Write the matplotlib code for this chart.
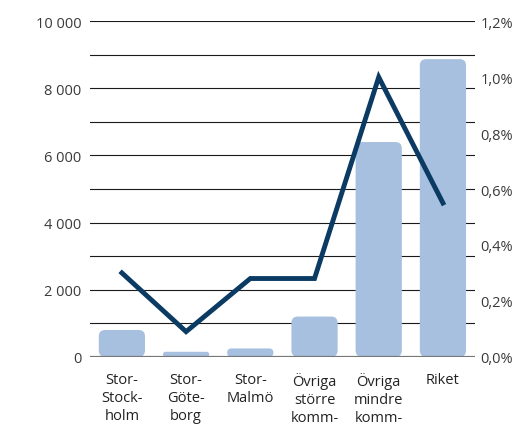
import matplotlib
matplotlib.use("Agg")
import matplotlib.pyplot as plt
from matplotlib.patches import FancyBboxPatch
from matplotlib.ticker import FuncFormatter

plt.rcParams['font.family'] = ['Open Sans', 'DejaVu Sans']

categories = ["Stor-\nStock-\nholm", "Stor-\nGöte-\nborg", "Stor-\nMalmö",
              "Övriga\nstörre\nkomm-", "Övriga\nmindre\nkomm-", "Riket"]
bar_values = [800, 150, 250, 1200, 6400, 8870]
line_values = [0.30, 0.09, 0.28, 0.28, 1.00, 0.55]
left_ticks = [0, 2000, 4000, 6000, 8000, 10000]
right_ticks = [0.0, 0.2, 0.4, 0.6, 0.8, 1.0, 1.2]

bar_color = "#a7c0df"
line_color = "#0b3a63"
text_color = "#3a3a3a"

fig = plt.figure(figsize=(5.13, 4.27), dpi=100)
ax = fig.add_axes([0.175, 0.162, 0.751, 0.786])

x = list(range(len(categories)))
ax.set_xlim(-0.5, len(categories) - 0.5)
ax.set_ylim(0, 10000)

# horizontal grid every 1000
for v in range(1000, 10001, 1000):
    ax.axhline(v, color="#1a1a1a", lw=0.8, zorder=1)
ax.axhline(0, color="#777777", lw=1.6, zorder=4)

bars = ax.bar(x, bar_values, width=0.72, color=bar_color, zorder=2)

# replace plain rectangles with rounded ones
px_per_x = 385 / 6.0
px_per_y = 336 / 10000.0
aspect = px_per_x / px_per_y
for r in bars:
    bx, by, bw, bh = r.get_x(), r.get_y(), r.get_width(), r.get_height()
    r.set_visible(False)
    rs = min(0.1, (bh / aspect) / 2.0)
    patch = FancyBboxPatch((bx, by), bw, bh,
                           boxstyle=f"round,pad=0,rounding_size={rs}",
                           mutation_aspect=aspect,
                           facecolor=bar_color, edgecolor="none", zorder=2)
    ax.add_patch(patch)

ax.set_yticks(left_ticks)
ax.yaxis.set_major_formatter(FuncFormatter(lambda v, p: f"{int(v):,}".replace(",", " ")))
ax.set_xticks(x)
ax.set_xticklabels(categories, fontsize=10.5, color="#222222", linespacing=1.25, va="top")
ax.tick_params(axis="x", length=0, pad=11)
ax.tick_params(axis="y", length=0, pad=6, labelsize=10.5, labelcolor=text_color)
for s in ax.spines.values():
    s.set_visible(False)

ax2 = ax.twinx()
ax2.set_ylim(0, 1.2)
ax2.plot(x, line_values, color=line_color, lw=3.5, zorder=5, solid_joinstyle="miter")
ax2.set_yticks(right_ticks)
ax2.yaxis.set_major_formatter(FuncFormatter(lambda v, p: f"{v:.1f}%".replace(".", ",")))
ax2.tick_params(axis="y", length=0, pad=4, labelsize=10.5, labelcolor=text_color)
for s in ax2.spines.values():
    s.set_visible(False)

fig.savefig("out.png", dpi=100)
